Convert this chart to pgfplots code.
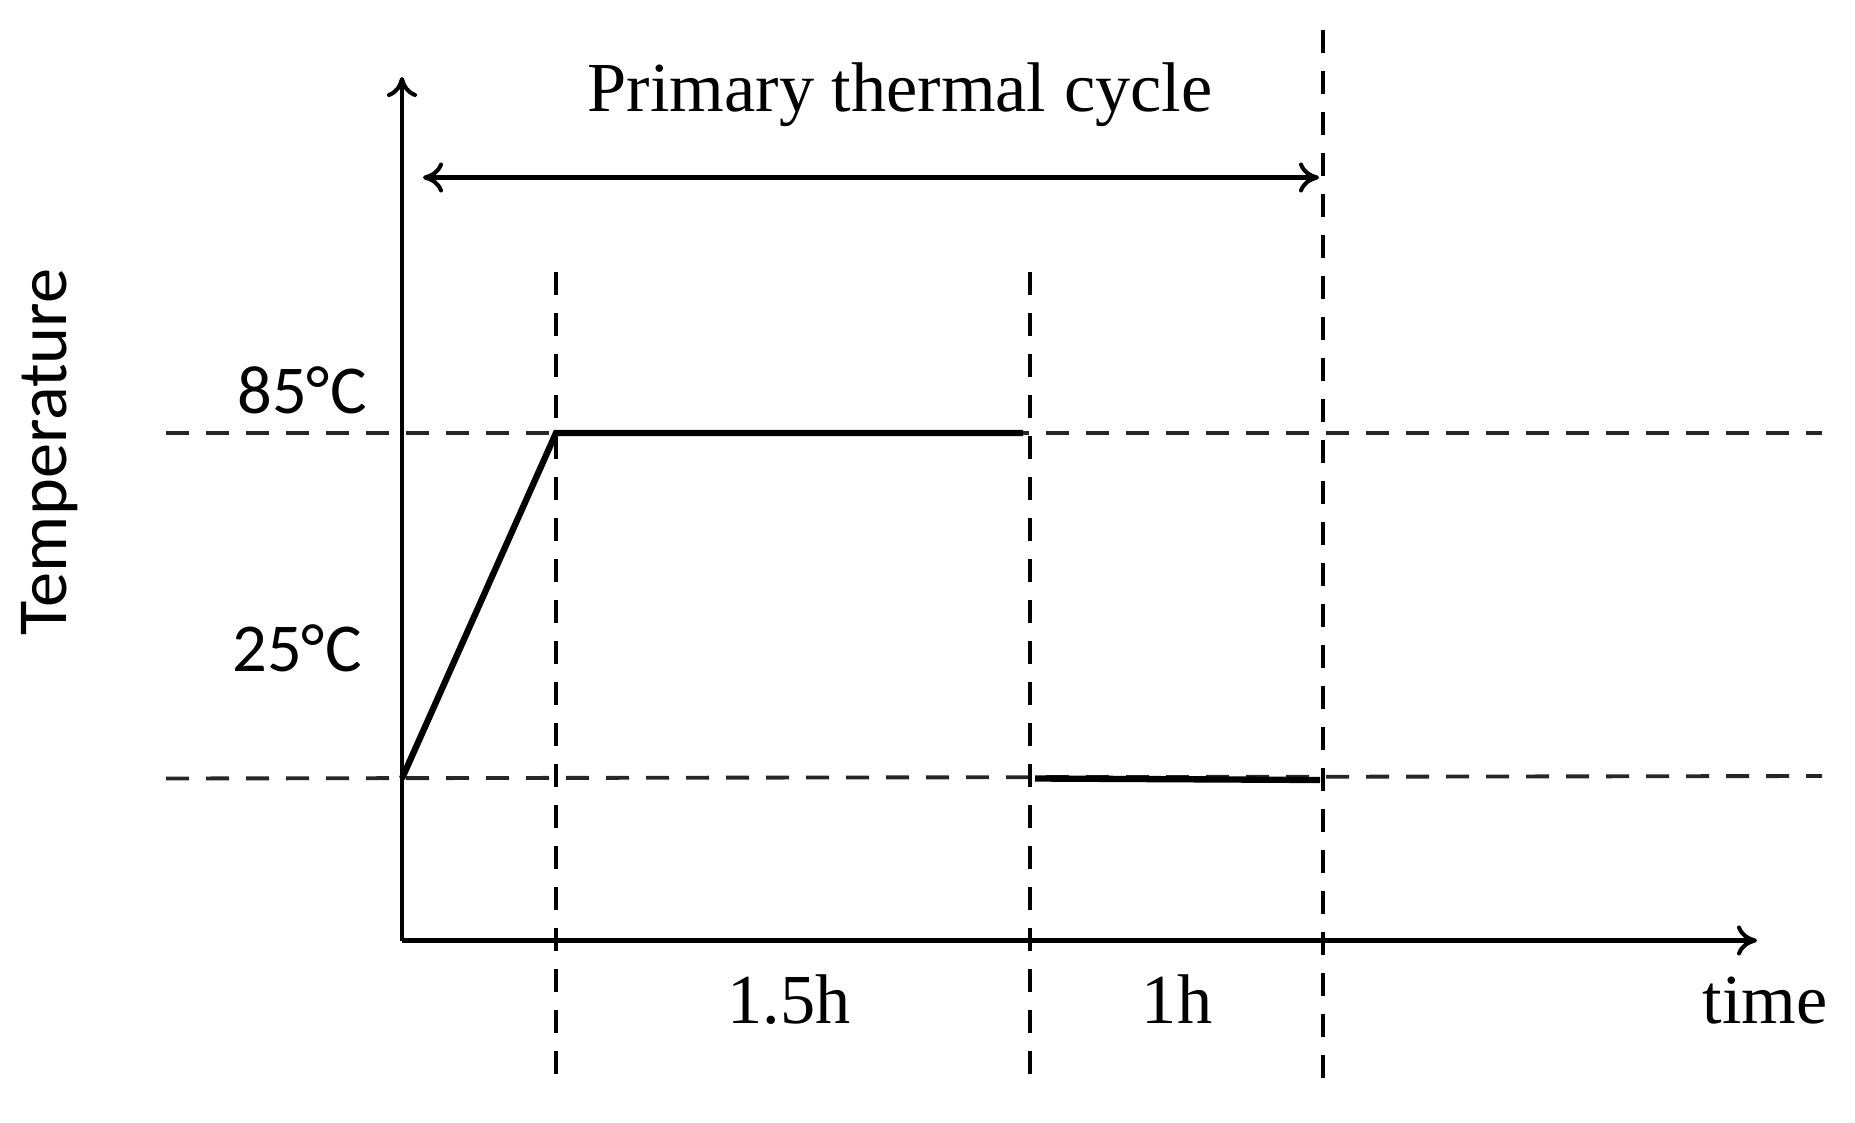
\documentclass[border=0pt]{standalone}
\usepackage{fontspec}
\setmainfont{Liberation Serif}
\newfontfamily\calfont{Carlito}
\usepackage{pgfplots}
\pgfplotsset{compat=1.18}
\usetikzlibrary{arrows.meta}
\begin{document}
\begin{tikzpicture}
\begin{axis}[
  scale only axis, width=18.55cm, height=11.22cm,
  xmin=0, xmax=1855, ymin=0, ymax=1122,
  hide axis, clip=false,
]
% frame of the picture (invisible)
\addplot[draw=none] coordinates {(0,0) (1855,1122)};
% dashed guide lines
\addplot[black!85, line width=1.1pt, dash pattern=on 2.3mm off 1.7mm] coordinates {(166,689) (1822,689)};
\addplot[black!85, line width=1.1pt, dash pattern=on 2.3mm off 1.7mm] coordinates {(166,343.5) (1822,346)};
\addplot[black, line width=1.1pt, dash pattern=on 2.3mm off 1.8mm] coordinates {(556,850) (556,33)};
\addplot[black, line width=1.1pt, dash pattern=on 2.3mm off 1.8mm] coordinates {(1030,850) (1030,33)};
\addplot[black, line width=1.1pt, dash pattern=on 2.3mm off 1.8mm] coordinates {(1323,1092) (1323,33)};
% axes
\addplot[black, line width=1.15pt, -{To[length=2mm,width=3mm]}] coordinates {(402,181.5) (402,1045)};
\addplot[black, line width=1.15pt, -{To[length=2mm,width=3mm]}] coordinates {(402,181.5) (1757,181.5)};
% double arrow
\addplot[black, line width=1.15pt, {To[length=2mm,width=3mm]}-{To[length=2mm,width=3mm]}] coordinates {(423,944.5) (1319,944.5)};
% temperature profile
\addplot[black, line width=1.8pt] coordinates {(402,343.5) (556,689) (1023,689)};
\addplot[black, line width=1.8pt] coordinates {(1035,343.5) (1320,342)};
% texts
\node[anchor=base, font=\fontsize{20}{24}\selectfont] at (axis cs:900,1010) {Primary thermal cycle};
\node[anchor=base, font=\calfont\fontsize{19.5}{23}\selectfont] at (axis cs:302,708) {85°C};
\node[anchor=base, font=\calfont\fontsize{19.5}{23}\selectfont] at (axis cs:297,450) {25°C};
\node[rotate=90, anchor=center, font=\calfont\fontsize{20}{24}\selectfont] at (axis cs:50,670) {Temperature};
\node[anchor=base, font=\fontsize{20}{24}\selectfont] at (axis cs:789,99) {1.5h};
\node[anchor=base, font=\fontsize{20}{24}\selectfont] at (axis cs:1177,99) {1h};
\node[anchor=base, font=\fontsize{20}{24}\selectfont] at (axis cs:1765,99) {time};
\end{axis}
\end{tikzpicture}
\end{document}
